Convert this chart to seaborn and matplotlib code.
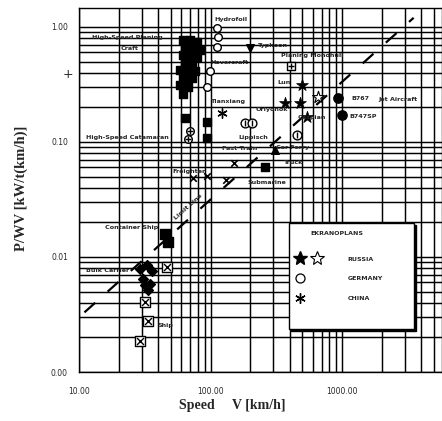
import numpy as np
import pandas as pd
import matplotlib
matplotlib.use("Agg")
import matplotlib.pyplot as plt
import seaborn as sns
from matplotlib.lines import Line2D
from matplotlib.legend_handler import HandlerTuple
from matplotlib.patches import Rectangle
from matplotlib.ticker import LogLocator, FixedLocator, NullFormatter, FixedFormatter

# ---------------- data ----------------
planing_v = [61.8, 69.8, 78.9, 64.0, 72.3, 83.2, 61.8, 69.8, 78.9, 64.0, 72.3,
             58.6, 67.5, 76.2, 61.8, 72.3, 58.6, 67.5, 61.8, 64.0, 94.0, 94.0]
planing_p = [0.77, 0.77, 0.74, 0.66, 0.66, 0.63, 0.57, 0.57, 0.55, 0.50, 0.50,
             0.42, 0.42, 0.41, 0.36, 0.36, 0.31, 0.30, 0.26, 0.162, 0.150, 0.109]
hydrofoil_v = [112, 114, 112, 99, 94]
hydrofoil_p = [0.98, 0.82, 0.67, 0.41, 0.30]
catamaran_v = [69.8, 67.5]
catamaran_p = [0.125, 0.106]
typhoon_v = [200]
typhoon_p = [0.66]
hover_v = [410]
hover_p = [0.46]
russia_v = [497, 369, 480, 542]
russia_p = [0.31, 0.22, 0.22, 0.166]
russia_open_v = [656]
russia_open_p = [0.247]
germany_v = [183, 207, 455]
germany_p = [0.147, 0.147, 0.116]
china_v = [122]
china_p = [0.18]
jet_v = [933, 1000]
jet_p = [0.242, 0.172]
land_v = [74, 94, 130, 150]
land_p = [0.049, 0.051, 0.047, 0.065]
truck_v = [260]
truck_p = [0.061]
tri_v = [310]
tri_p = [0.085]
container_v = [45.1, 47.6]
container_p = [0.0157, 0.0134]
bulk_v = [29.1, 33.0, 35.9, 30.7, 31.8, 33.5, 34.7]
bulk_p = [0.0078, 0.0085, 0.0075, 0.0064, 0.0057, 0.0052, 0.0058]
ship_v = [46.7, 31.8, 33.5, 29.1]
ship_p = [0.0081, 0.0041, 0.00276, 0.00185]
limit_v = [11.0, 3500]
limit_p = [0.0033, 1.2]

x_ticks = [10, 100, 1000]
x_labels = ["10.00", "100.00", "1000.00"]
y_ticks = [0.001, 0.01, 0.1, 1.0]
y_labels = ["0.00", "0.01", "0.10", "1.00"]

# ---------------- figure ----------------
sns.set_style("white")
plt.rcParams['font.family'] = ['DejaVu Sans']

W, H = 442, 421
fig = plt.figure(figsize=(W / 100, H / 100), dpi=100)
L, R, T, B = 79, 442, 8, 372
ax = fig.add_axes([L / W, 1 - B / H, (R - L) / W, (B - T) / H])
ax.set_xscale('log')
ax.set_yscale('log')
ax.set_xlim(10, 5750)
ax.set_ylim(0.001, 1.46)

ax.xaxis.set_major_locator(FixedLocator(x_ticks))
ax.xaxis.set_major_formatter(FixedFormatter(x_labels))
ax.yaxis.set_major_locator(FixedLocator(y_ticks))
ax.yaxis.set_major_formatter(FixedFormatter(y_labels))
for a in (ax.xaxis, ax.yaxis):
    a.set_minor_locator(LogLocator(base=10, subs=np.arange(2, 10)))
    a.set_minor_formatter(NullFormatter())
ax.tick_params(which='both', length=0, labelsize=5.5)
ax.tick_params(axis='x', pad=11)
ax.tick_params(axis='y', pad=8)
ax.grid(True, which='both', color='black', linewidth=1.05)
ax.set_axisbelow(True)
for s in ax.spines.values():
    s.set_color('black')
    s.set_linewidth(1.0)

# limit line
sns.lineplot(x=limit_v, y=limit_p, ax=ax, color='black', linewidth=1.6,
             dashes=False, zorder=3)
ax.lines[-1].set_dashes((6.5, 7.5))

def sc(v, p, marker, fc='black', ec='black', s=35, lw=1.0, z=4):
    sns.scatterplot(x=v, y=p, ax=ax, marker=marker, color=fc, edgecolor=ec,
                    s=s, linewidth=lw, legend=False, zorder=z)

sc(planing_v, planing_p, 's', s=40)
sc(hydrofoil_v, hydrofoil_p, 'o', fc='white', s=30)
sc(catamaran_v, catamaran_p, 'o', fc='white', s=30)
sc(catamaran_v, catamaran_p, '+', fc='black', s=25)
sc(typhoon_v, typhoon_p, 'v', s=30)
sc(hover_v, hover_p, 's', fc='white', s=35)
sc(hover_v, hover_p, '+', s=25)
sc(russia_v, russia_p, '*', s=80, lw=0.5)
sc(russia_open_v, russia_open_p, '*', fc='white', s=80, lw=0.8)
sc(germany_v, germany_p, 'o', fc='white', s=40)
sc(germany_v, germany_p, '|', s=20)
sc(china_v, china_p, (6, 2, 0), s=45)
sc(jet_v, jet_p, 'o', s=45)
sc(land_v, land_p, 'x', s=22, lw=1.2)
sc(truck_v, truck_p, 's', s=30)
sc(tri_v, tri_p, '^', s=30)
sc(container_v, container_p, 's', s=55)
sc(bulk_v, bulk_p, 'D', s=25)
sc(ship_v, ship_p, 's', fc='white', s=45)
sc(ship_v, ship_p, 'x', s=25)

# ---------------- annotations ----------------
def put(txt, px, py, ha='left', fs=4.6, rot=0):
    ax.text((px - L) / (R - L), (B - py) / (B - T), txt, transform=ax.transAxes,
            fontsize=fs, fontweight='bold', ha=ha, va='center', rotation=rot,
            zorder=5)

put("High-Speed Planing", 92, 38)
put("Craft", 130, 49, ha='center')
put("High-Speed Catamaran", 86, 138)
put("Hydrofoil", 214, 20)
put("Typhoon", 258, 45)
put("Planing Monohull", 281, 55)
put("Hovercraft", 210, 63)
put("Lun", 277, 83)
put("Orlyonok", 256, 110)
put("Caspian", 298, 118)
put("B767", 351, 98)
put("B747SP", 349, 116)
put("Jet Aircraft", 378, 100)
put("Lippisch", 238, 137)
put("Tianxiang", 228, 102, ha='center')
put("Fast Train", 222, 148)
put("Car Ferry", 276, 148)
put("Truck", 284, 163)
put("Submarine", 248, 183)
put("Freighter", 172, 172)
put("Container Ship", 158, 228, ha='right')
put("Bulk Carrier", 86, 270)
put("Ship", 157, 325)
put("Limit Line", 188, 207, ha='center', rot=42)

ax.text(8.25, 0.383, "+", fontsize=9, ha='center', va='center', clip_on=False)

# ---------------- legend box ----------------
bx0, by0 = (289 - L) / (R - L), (B - 329) / (B - T)
bw, bh = 125 / (R - L), 106 / (B - T)
ax.add_patch(Rectangle((bx0 + 0.006, by0 - 0.006), bw, bh, transform=ax.transAxes,
                       facecolor='black', edgecolor='black', zorder=6))
ax.add_patch(Rectangle((bx0, by0), bw, bh, transform=ax.transAxes,
                       facecolor='white', edgecolor='black', linewidth=1.0, zorder=7))

h_star = Line2D([], [], linestyle='none', marker='*', markersize=10,
                markerfacecolor='black', markeredgecolor='black')
h_star_o = Line2D([], [], linestyle='none', marker='*', markersize=10,
                  markerfacecolor='white', markeredgecolor='black', markeredgewidth=0.8)
h_circ = Line2D([], [], linestyle='none', marker='o', markersize=6.5,
                markerfacecolor='white', markeredgecolor='black', markeredgewidth=0.9)
h_ast = Line2D([], [], linestyle='none', marker=(6, 2, 0), markersize=7.5,
               color='black', markeredgewidth=1.0)
blank = Line2D([], [], linestyle='none')
leg = ax.legend([(h_star, h_star_o), (h_circ, blank), (h_ast, blank)],
                ["RUSSIA", "GERMANY", "CHINA"],
                handler_map={tuple: HandlerTuple(ndivide=None, pad=0)},
                title="EKRANOPLANS\n", title_fontproperties={'size': 4.5, 'weight': 'bold'},
                prop={'size': 4.5, 'weight': 'bold'}, frameon=False,
                loc='upper left', bbox_to_anchor=(0.585, (B - 231) / (B - T)),
                borderaxespad=0, borderpad=0, handlelength=5.4, handletextpad=3.6,
                labelspacing=2.3)
leg.set_zorder(8)

# ---------------- axis labels ----------------
fig.text(232 / W, 1 - 405 / H, "Speed     V [km/h]", fontfamily='Liberation Serif',
         fontweight='bold', fontsize=10, ha='center', va='center')
fig.text(21 / W, 1 - 188 / H, "P/WV [kW/t(km/h)]", fontfamily='Liberation Serif',
         fontweight='bold', fontsize=10.5, ha='center', va='center', rotation=90)

fig.savefig("out.png", dpi=100)
